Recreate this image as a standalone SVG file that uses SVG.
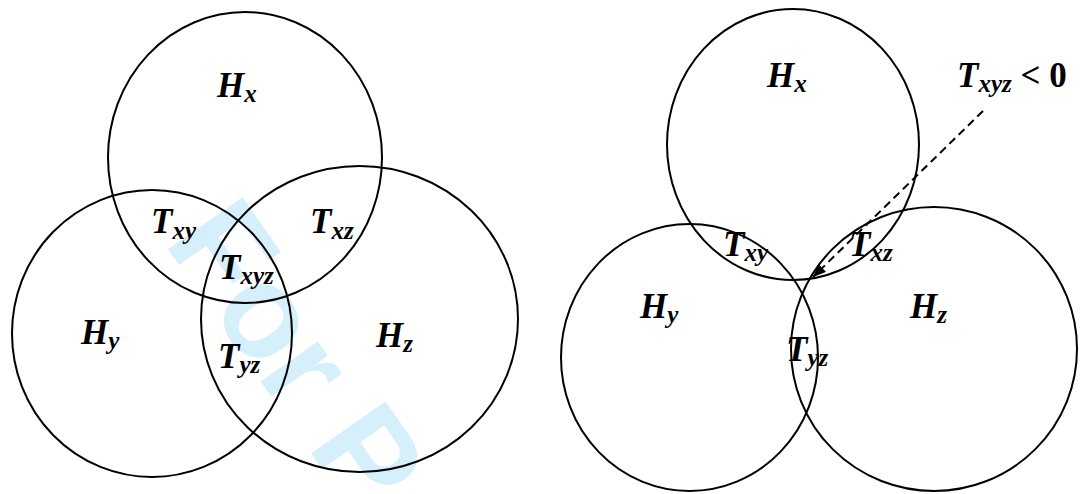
<svg xmlns="http://www.w3.org/2000/svg" width="1080" height="494" viewBox="0 0 1080 494">
<style>
.c{fill:none;stroke:#000;stroke-width:2}
.l{font-family:"Liberation Serif","Times New Roman",serif;font-weight:bold;font-style:italic;font-size:35px;fill:#000}
.s{font-size:25px}
.u{font-style:normal}
.wm{font-family:"Liberation Sans",Arial,sans-serif;font-weight:bold;font-size:132px;fill:#d5effb}
.d{fill:none;stroke:#000;stroke-width:2;stroke-dasharray:8 5}
</style>
<defs>
<marker id="ah" markerUnits="userSpaceOnUse" markerWidth="13" markerHeight="11" refX="13" refY="5.5" orient="auto">
<path d="M0,0 L13,5.5 L0,11 z" fill="#000"/>
</marker>
</defs>
<rect width="1080" height="494" fill="#fff"/>
<g id="watermark">
<text class="wm" x="163" y="242" transform="rotate(55 163 242)">For Peer Review</text>
</g>
<g id="left">
<g id="L-Hx"><ellipse class="c" cx="245" cy="157.5" rx="137" ry="145.5"/><text class="l" x="217" y="97">H<tspan class="s" dy="5">x</tspan></text></g>
<g id="L-Hy"><ellipse class="c" cx="152" cy="333.5" rx="140" ry="143.5"/><text class="l" x="81" y="344">H<tspan class="s" dy="5">y</tspan></text></g>
<g id="L-Hz"><ellipse class="c" cx="359.5" cy="319" rx="158.5" ry="153"/><text class="l" x="376" y="347">H<tspan class="s" dy="5">z</tspan></text></g>
<g id="L-Txy"><text class="l" x="151" y="233">T<tspan class="s" dy="6">xy</tspan></text></g>
<g id="L-Txz"><text class="l" x="310" y="233">T<tspan class="s" dy="6">xz</tspan></text></g>
<g id="L-Txyz"><text class="l" x="219" y="279">T<tspan class="s" dy="5">xyz</tspan></text></g>
<g id="L-Tyz"><text class="l" x="218" y="368">T<tspan class="s" dy="5">yz</tspan></text></g>
</g>
<g id="right">
<g id="R-Hx"><ellipse class="c" cx="793" cy="144.5" rx="126" ry="135.5"/><text class="l" x="767" y="87">H<tspan class="s" dy="5">x</tspan></text></g>
<g id="R-Hy"><ellipse class="c" cx="689.5" cy="357.5" rx="128.5" ry="133.5"/><text class="l" x="640" y="318">H<tspan class="s" dy="5">y</tspan></text></g>
<g id="R-Hz"><ellipse class="c" cx="934" cy="349" rx="143" ry="142"/><text class="l" x="910" y="318">H<tspan class="s" dy="5">z</tspan></text></g>
<g id="R-Txy"><text class="l" x="723" y="256">T<tspan class="s" dy="5">xy</tspan></text></g>
<g id="R-Txz"><text class="l" x="849" y="256">T<tspan class="s" dy="5">xz</tspan></text></g>
<g id="R-Tyz"><text class="l" x="786" y="361">T<tspan class="s" dy="5">yz</tspan></text></g>
<g id="R-note"><text class="l" x="957" y="87">T<tspan class="s" dy="5">xyz</tspan><tspan class="u" dy="-5"> &lt; 0</tspan></text></g>
</g>
<g id="connectors">
<line class="d" x1="983" y1="111" x2="813" y2="277" marker-end="url(#ah)"/>
</g>
</svg>
